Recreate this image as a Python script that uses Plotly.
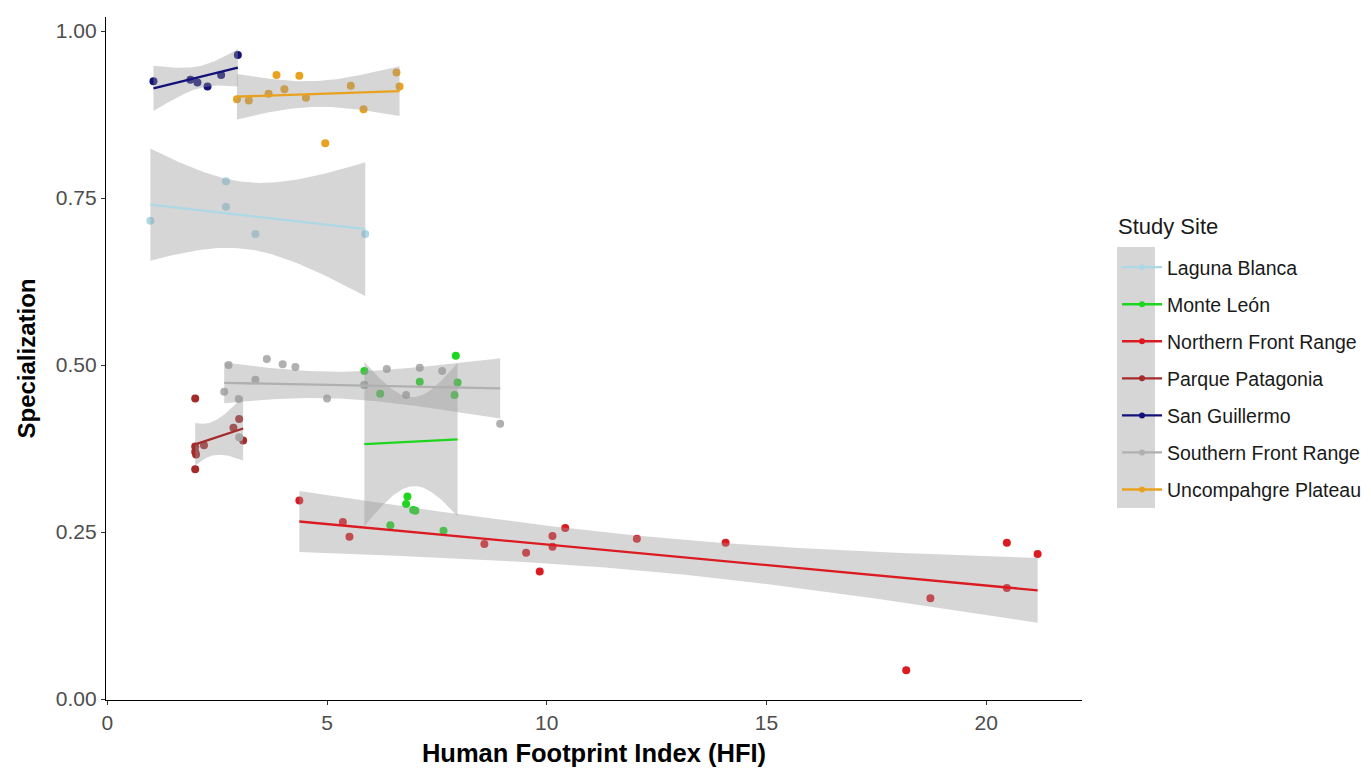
import numpy as np
import plotly.graph_objects as go

# ---- data: Human Footprint Index (x) vs. Specialization (y) by study site ----
sites = ["Laguna Blanca", "Monte León", "Northern Front Range", "Parque Patagonia",
         "San Guillermo", "Southern Front Range", "Uncompahgre Plateau"]

laguna_x = [0.98, 2.70, 2.70, 3.37, 5.87]
laguna_y = [0.716, 0.775, 0.737, 0.696, 0.696]

monte_x = [5.85, 5.85, 6.21, 7.11, 7.93, 7.97, 7.90, 6.83, 6.80, 6.96, 7.01, 6.44, 7.65]
monte_y = [0.491, 0.470, 0.457, 0.475, 0.514, 0.474, 0.455, 0.303, 0.292, 0.283, 0.282, 0.260, 0.252]

northern_x = [4.37, 5.36, 5.51, 8.58, 9.53, 9.84, 10.13, 10.13, 10.42, 12.05, 14.07,
              18.18, 18.73, 20.47, 20.47, 21.17]
northern_y = [0.297, 0.265, 0.243, 0.232, 0.219, 0.191, 0.244, 0.228, 0.256, 0.240, 0.234,
              0.043, 0.151, 0.234, 0.166, 0.217]

parque_x = [2.00, 2.00, 2.00, 2.02, 2.20, 2.00, 3.00, 2.87, 3.09]
parque_y = [0.450, 0.378, 0.370, 0.366, 0.380, 0.344, 0.419, 0.406, 0.387]

sanguillermo_x = [1.05, 1.89, 2.05, 2.28, 2.59, 2.97]
sanguillermo_y = [0.925, 0.927, 0.923, 0.917, 0.934, 0.964]

southern_x = [2.76, 2.66, 3.63, 3.99, 4.28, 3.37, 2.99, 3.00, 5.00, 5.85, 6.36, 7.11, 7.62,
              6.80, 8.94]
southern_y = [0.500, 0.460, 0.509, 0.501, 0.497, 0.478, 0.449, 0.392, 0.450, 0.470, 0.494,
              0.496, 0.491, 0.455, 0.412]

uncompahgre_x = [2.95, 3.22, 3.67, 3.85, 4.03, 4.37, 4.52, 4.96, 5.54, 5.83, 6.58, 6.65]
uncompahgre_y = [0.898, 0.896, 0.906, 0.934, 0.913, 0.933, 0.900, 0.832, 0.918, 0.883,
                 0.938, 0.917]

site_x = [laguna_x, monte_x, northern_x, parque_x, sanguillermo_x, southern_x, uncompahgre_x]
site_y = [laguna_y, monte_y, northern_y, parque_y, sanguillermo_y, southern_y, uncompahgre_y]

colors = ["#ADD8E6", "#1ED61E", "#DC1A22", "#A52A2A", "#12127A", "#B0B0B0", "#E9A21F"]

x_ticks = [0, 5, 10, 15, 20]
y_ticks = [0.00, 0.25, 0.50, 0.75, 1.00]

# two-sided 95% Student t critical values, indexed by degrees of freedom
T975 = {1: 12.706, 2: 4.303, 3: 3.182, 4: 2.776, 5: 2.571, 6: 2.447, 7: 2.365, 8: 2.306,
        9: 2.262, 10: 2.228, 11: 2.201, 12: 2.179, 13: 2.160, 14: 2.145, 15: 2.131,
        16: 2.120, 17: 2.110, 18: 2.101, 19: 2.093, 20: 2.086}


def lm_band(x, y, n_grid=80):
    """Ordinary least-squares fit with a 95% confidence band for the mean."""
    x = np.asarray(x, float)
    y = np.asarray(y, float)
    n = len(x)
    xm = x.mean()
    sxx = ((x - xm) ** 2).sum()
    slope = ((x - xm) * (y - y.mean())).sum() / sxx
    icpt = y.mean() - slope * xm
    resid = y - (icpt + slope * x)
    s = np.sqrt((resid ** 2).sum() / (n - 2))
    grid = np.linspace(x.min(), x.max(), n_grid)
    fit = icpt + slope * grid
    se = s * np.sqrt(1.0 / n + (grid - xm) ** 2 / sxx)
    t = T975[n - 2]
    return grid, fit, fit - t * se, fit + t * se


FONT = "Liberation Sans, Arial, sans-serif"
fig = go.Figure()

# points first, so the confidence ribbons shade them
for name, xs, ys, col in zip(sites, site_x, site_y, colors):
    fig.add_trace(go.Scatter(
        x=xs, y=ys, mode="markers", name=name, legendgroup=name, showlegend=False,
        marker=dict(color=col, size=8, line=dict(width=0)), hoverinfo="x+y+name"))

# per-site ribbon, then fitted line
for name, xs, ys, col in zip(sites, site_x, site_y, colors):
    grid, fit, lo, hi = lm_band(xs, ys)
    fig.add_trace(go.Scatter(
        x=np.concatenate([grid, grid[::-1]]), y=np.concatenate([hi, lo[::-1]]),
        mode="lines", fill="toself", fillcolor="rgba(153,153,153,0.4)",
        line=dict(width=0), hoverinfo="skip", showlegend=False, legendgroup=name))
    fig.add_trace(go.Scatter(
        x=grid, y=fit, mode="lines", line=dict(color=col, width=2.3),
        hoverinfo="skip", showlegend=False, legendgroup=name))

# legend entries (line + point keys)
for name, col in zip(sites, colors):
    fig.add_trace(go.Scatter(
        x=[None], y=[None], mode="lines+markers", name=name, legendgroup=name,
        line=dict(color=col, width=2.3), marker=dict(color=col, size=6)))

W, H = 1371, 770
ml, mr, mt, mb = 106, 289, 17, 70


def px_x(p):
    return (p - ml) / (W - ml - mr)


def px_y(p):
    return (H - mb - p) / (H - mt - mb)


# grey key background behind the legend symbols
fig.add_shape(type="rect", xref="paper", yref="paper",
              x0=px_x(1117), x1=px_x(1155), y0=px_y(508), y1=px_y(247),
              fillcolor="rgba(153,153,153,0.4)", line=dict(width=0), layer="below")

# legend heading
fig.add_annotation(text="Study Site", xref="paper", yref="paper",
                   x=px_x(1116), y=px_y(226), xanchor="left", yanchor="middle",
                   showarrow=False, font=dict(family=FONT, size=22, color="#1A1A1A"))

axis_common = dict(showgrid=False, zeroline=False, showline=True, linecolor="black",
                   linewidth=1.2, ticks="outside", ticklen=4, tickcolor="#333333",
                   tickwidth=1.2,
                   tickfont=dict(family=FONT, size=21, color="#4D4D4D"))

fig.update_layout(
    width=W, height=H,
    margin=dict(l=ml, r=mr, t=mt, b=mb, autoexpand=False),
    paper_bgcolor="white", plot_bgcolor="white",
    font=dict(family=FONT, color="black"),
    xaxis=dict(range=[-0.03, 22.18], tickvals=x_ticks,
               ticktext=[str(v) for v in x_ticks],
               title=dict(text="<b>Human Footprint Index (HFI)</b>",
                          font=dict(size=25.5, color="black"), standoff=10),
               **axis_common),
    yaxis=dict(range=[-0.0015, 1.021], tickvals=y_ticks,
               ticktext=[f"{v:.2f}" for v in y_ticks],
               title=dict(text="<b>Specialization</b>",
                          font=dict(size=24, color="black"), standoff=13),
               **axis_common),
    legend=dict(x=px_x(1117), y=px_y(248), xanchor="left", yanchor="top",
                bgcolor="rgba(0,0,0,0)", tracegroupgap=8.7, itemwidth=40,
                font=dict(size=19.5, color="#1A1A1A")),
    showlegend=True,
)

fig.write_html("out.html")
